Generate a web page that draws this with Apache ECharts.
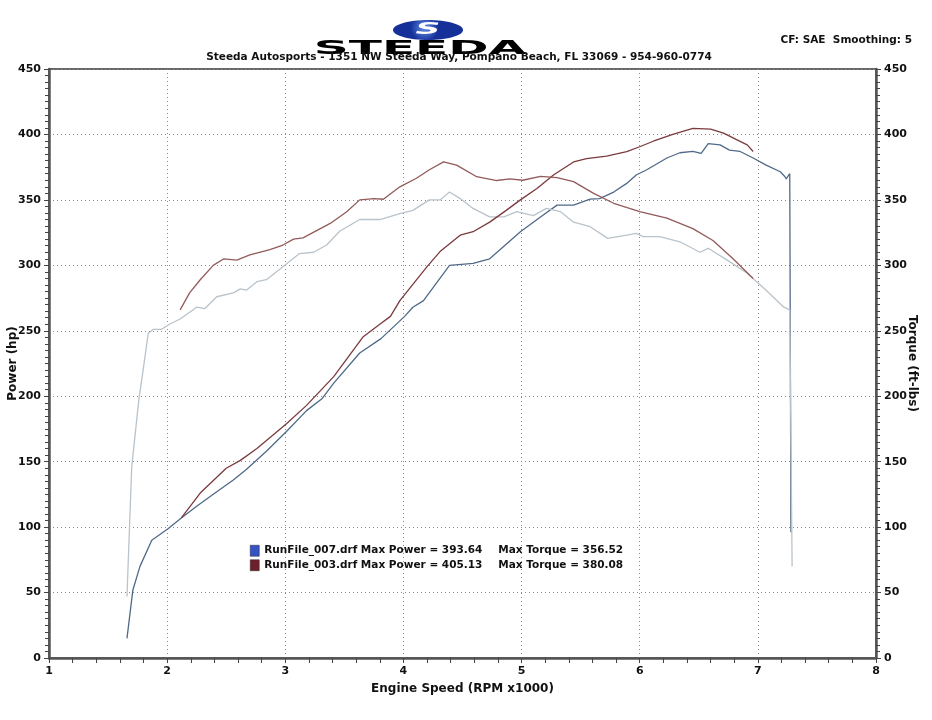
<!DOCTYPE html>
<html>
<head>
<meta charset="utf-8">
<script src="https://cdn.jsdelivr.net/npm/echarts@6/dist/echarts.min.js"></script>
<style>
  html, body { margin: 0; padding: 0; background: #fff; }
  #chart { width: 932px; height: 720px; }
</style>
</head>
<body>
<div id="chart"></div>
<script>
// dyno runs, values (rpm x1000)
const runFiles = ['RunFile_007.drf', 'RunFile_003.drf']
const maxPower = ['393.64', '405.13']
const maxTorque = ['356.52', '380.08']

const rpm007Power = [1.66,1.71,1.77,1.87,2.01,2.12,2.25,2.42,2.56,2.67,2.84,3.01,3.18,3.31,3.41,3.63,3.81,4.01,4.08,4.17,4.39,4.59,4.73,4.99,5.16,5.30,5.44,5.58,5.66,5.78,5.89,5.97,6.06,6.23,6.34,6.45,6.52,6.58,6.68,6.76,6.85,6.96,7.07,7.19,7.23,7.24,7.27,7.28]
const hp007 = [15,52,70,90,99,107,116,127,136,144,158,173,189,198,210,233,244,261,268,273,300,301.5,305,325.6,337,346,346,350.6,351,356,362.6,369,373,382,386,387,385.5,393,392,388,387,382,376.6,371.5,367.7,366,370,96]

const rpm007Torque = [1.66,1.70,1.76,1.80,1.84,1.88,1.95,2.02,2.11,2.25,2.32,2.42,2.56,2.62,2.67,2.76,2.84,2.98,3.12,3.24,3.35,3.46,3.63,3.80,3.97,4.08,4.22,4.31,4.39,4.48,4.59,4.73,4.85,4.96,5.10,5.21,5.33,5.44,5.58,5.73,5.89,5.97,6.03,6.17,6.34,6.51,6.58,6.74,6.91,7.07,7.22,7.27,7.29]
const tq007 = [47,146,197,222,248,251,251,255,259,268,267,276,279,282,281,287.5,289,299,309,310,315.5,326,335,335,339.5,342,350,350,356,351,343.5,337,337,341,338,343.5,341,333,329.5,320.6,323,324.4,322,322,318,310,313,304,294,281,268,266,70]

const rpm003Power = [2.12,2.28,2.50,2.62,2.76,3.01,3.18,3.41,3.66,3.80,3.89,3.97,4.20,4.31,4.48,4.59,4.73,4.87,4.99,5.13,5.27,5.44,5.55,5.72,5.89,6.00,6.12,6.28,6.45,6.60,6.71,6.82,6.91,6.96]
const hp003 = [107,126,145,151,160,179,193,215,245.5,255,261,273,299,310.5,323,325.7,333,342,350,358.7,369,379,381.6,383.5,386.8,390.6,395,400,404.6,404,401,396,392,387]

const rpm003Torque = [2.11,2.19,2.28,2.39,2.48,2.59,2.70,2.87,2.98,3.07,3.15,3.38,3.52,3.63,3.75,3.83,3.97,4.11,4.22,4.34,4.45,4.62,4.79,4.90,5.01,5.16,5.30,5.44,5.61,5.78,6.00,6.23,6.45,6.62,6.79,6.96]
const tq003 = [266,279,289,300,305,304,308,312,315.5,320,321,332,341,350,351,350.5,360,366.5,373,379,376.6,367.7,364.8,366,365,368,367,364,355,347.4,341,336,328,319,305,290]

const zip = (xs, ys) => xs.map((x, i) => [x, ys[i]])
const FONT = 'DejaVu Sans'
const labelStyle = { color: '#111', fontFamily: FONT, fontWeight: 'bold', fontSize: 11 }
const nameStyle = { color: '#111', fontFamily: FONT, fontWeight: 'bold', fontSize: 12 }

const chart = echarts.init(document.getElementById('chart'))

function curve(name, data, color, yAxisIndex) {
  return {
    name, type: 'line', data, yAxisIndex, showSymbol: false, symbol: 'none',
    lineStyle: { color, width: 1.3 }, itemStyle: { color }, emphasis: { disabled: true },
  }
}

function valueAxis(position, name, nameRotate) {
  return {
    type: 'value', position, min: 0, max: 450, interval: 50, name, nameRotate,
    nameLocation: 'middle', nameGap: 30, nameMoveOverlap: false, nameTextStyle: nameStyle,
    axisLine: { show: true, lineStyle: { color: '#555', width: 2.5 } },
    axisTick: { show: true, length: 5, lineStyle: { color: '#444' } },
    minorTick: { show: true, splitNumber: 10, length: 4, lineStyle: { color: '#444' } },
    axisLabel: { ...labelStyle, margin: 8 },
    splitLine: { show: position === 'left', lineStyle: { color: '#888', type: [1, 3], width: 1 } },
  }
}

chart.setOption({
  backgroundColor: '#fff',
  animation: false,
  grid: {
    left: 49, right: 56, top: 69, bottom: 62, containLabel: false, outerBoundsMode: 'none',
    show: true, borderColor: '#666', borderWidth: 2,
  },
  legend: {
    orient: 'vertical', left: 245, top: 540, itemGap: 3, itemWidth: 9, itemHeight: 11, icon: 'rect',
    selectedMode: false,
    data: [
      { name: runFiles[0], itemStyle: { color: '#3554c4', borderColor: '#223', borderWidth: 0.5 } },
      { name: runFiles[1], itemStyle: { color: '#6e1f2c', borderColor: '#222', borderWidth: 0.5 } },
    ],
    formatter: (name) => {
      const i = runFiles.indexOf(name)
      return '{a|' + name + ' Max Power = ' + maxPower[i] + '}{b|Max Torque = ' + maxTorque[i] + '}'
    },
    textStyle: {
      rich: {
        a: { fontFamily: FONT, fontWeight: 'bold', fontSize: 10.5, color: '#111', width: 234 },
        b: { fontFamily: FONT, fontWeight: 'bold', fontSize: 10.5, color: '#111' },
      },
    },
  },
  xAxis: {
    type: 'value', min: 1, max: 8, interval: 1, name: 'Engine Speed (RPM x1000)',
    nameLocation: 'middle', nameGap: 25, nameMoveOverlap: false, nameTextStyle: nameStyle,
    axisLine: { show: true, lineStyle: { color: '#555', width: 2.5 } },
    axisTick: { show: true, length: 5, lineStyle: { color: '#444' } },
    minorTick: { show: true, splitNumber: 5, length: 5, lineStyle: { color: '#444' } },
    axisLabel: { ...labelStyle, margin: 8 },
    splitLine: { show: true, lineStyle: { color: '#888', type: [1, 3], width: 1 } },
  },
  yAxis: [valueAxis('left', 'Power (hp)', 90), valueAxis('right', 'Torque (ft-lbs)', -90)],
  series: [
    curve(runFiles[0], zip(rpm007Power, hp007), '#4f6a88', 0),
    curve('Torque 007', zip(rpm007Torque, tq007), '#b9c3cb', 1),
    curve(runFiles[1], zip(rpm003Power, hp003), '#7a3a3e', 0),
    curve('Torque 003', zip(rpm003Torque, tq003), '#935a5b', 1),
  ],
  graphic: [
    {
      type: 'ellipse', shape: { cx: 428, cy: 30, rx: 35, ry: 10 },
      style: {
        fill: new echarts.graphic.RadialGradient(0.45, 0.4, 0.7, [
          { offset: 0, color: '#5f8fe8' }, { offset: 1, color: '#16309a' },
        ]),
      },
    },
    {
      type: 'text', x: 428, y: 30, scaleX: 2.3, z: 10,
      style: { text: 'S', fill: '#fff', font: 'italic bold 15px ' + FONT, align: 'center', verticalAlign: 'middle' },
    },
    {
      type: 'text', x: 420, y: 49, scaleX: 2.7, scaleY: 1.1, z: 10,
      style: { text: 'STEEDA', fill: '#000', font: 'bold 18px ' + FONT, align: 'center', verticalAlign: 'middle' },
    },
    {
      type: 'text', x: 459, y: 57, z: 11,
      style: {
        text: 'Steeda Autosports - 1351 NW Steeda Way, Pompano Beach, FL 33069 - 954-960-0774',
        fill: '#111', font: 'bold 10.5px ' + FONT, align: 'center', verticalAlign: 'middle',
      },
    },
    {
      type: 'text', x: 912, y: 40,
      style: { text: 'CF: SAE  Smoothing: 5', fill: '#111', font: 'bold 10.5px ' + FONT, align: 'right', verticalAlign: 'middle' },
    },
  ],
})
</script>
</body>
</html>
